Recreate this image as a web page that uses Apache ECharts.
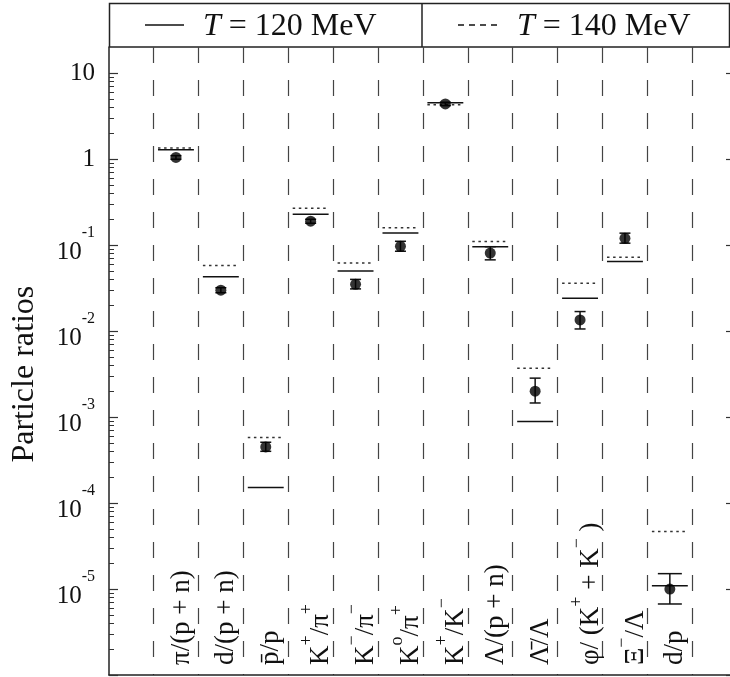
<!DOCTYPE html>
<html>
<head>
<meta charset="utf-8">
<script src="https://cdn.jsdelivr.net/npm/echarts@6/dist/echarts.min.js"></script>
<style>
html, body { margin: 0; padding: 0; background: #fff; }
#chart { width: 730px; height: 677px; }
</style>
</head>
<body>
<div id="chart"></div>
<script>
// ratio names (plain) and their typeset labels
var ratioNames = ['pi/(p+n)', 'd/(p+n)', 'pbar/p', 'K+/pi+', 'K-/pi-', 'K0/pi+',
                  'K+/K-', 'Lambda/(p+n)', 'Lambdabar/Lambda', 'phi/(K++K-)', 'Xi-/Lambda', 'd/p'];
var ratioLabels = [
    '{b|π/(p + n)}',
    '{b|d/(p + n)}',
    '{b|p\u0304/p}',
    '{b|K}{s|+}{b|/π}{s|+}',
    '{b|K}{s|\u2212}{b|/π}{s|\u2212}',
    '{b|K}{s|o}{b|/π}{s|+}',
    '{b|K}{s|+}{b|/K}{s|\u2212}',
    '{b|Λ/(p + n)}',
    '{b|Λ\u0304/Λ}',
    '{b|φ/ (K}{s|+}{b| + K}{s|\u2212}{b| )}',
    '{b|Ξ}{s|\u2212}{b|/Λ}',
    '{b|d/p}'
];

// measured ratios with error range
var measured = [1.05, 0.030, 4.5e-4, 0.19, 0.035, 0.097, 4.4, 0.081, 2.0e-3, 0.0135, 0.12, 1.0e-5];
var errLow   = [1.0, 0.028, 4.0e-4, 0.18, 0.031, 0.085, 4.2, 0.0675, 1.46e-3, 0.0106, 0.1055, 6.7e-6];
var errHigh  = [1.1, 0.032, 5.1e-4, 0.20, 0.040, 0.111, 4.6, 0.096, 2.84e-3, 0.0169, 0.138, 1.51e-5];

// thermal model, two temperatures
var model120 = [1.29, 0.043, 1.52e-4, 0.229, 0.050, 0.139, 4.55, 0.096, 8.9e-4, 0.0242, 0.0645, 1.09e-5];
var model140 = [1.35, 0.058, 5.8e-4, 0.269, 0.062, 0.160, 4.31, 0.110, 3.7e-3, 0.0361, 0.0725, 4.68e-5];

// y tick labels by decade exponent
var yTickLabels = {'-5': '{b|10}{s|-5}', '-4': '{b|10}{s|-4}', '-3': '{b|10}{s|-3}', '-2': '{b|10}{s|-2}',
                   '-1': '{b|10}{s|-1}', '0': '{n|1}', '1': '{n|10}'};

var serif = '"Liberation Serif", serif';
var ink = '#111';

var chart = echarts.init(document.getElementById('chart'));

function modelLine(dash) {
    return function (params, api) {
        var c = api.coord([api.value(0), api.value(1)]);
        var half = api.size([1, 0])[0] * 0.4;
        return {
            type: 'line',
            shape: { x1: c[0] - half, y1: c[1], x2: c[0] + half, y2: c[1] },
            style: { stroke: dash ? '#333' : '#111', lineWidth: 1.5, lineDash: dash ? [2.5, 3.6] : null }
        };
    };
}

var option = {
    animation: false,
    backgroundColor: '#fff',
    textStyle: { fontFamily: serif },
    grid: [
        { left: 109, right: 0, top: 47, bottom: 2 },      // frame
        { left: 109, right: 0, top: 73.3, bottom: 2 },    // ticks and labels (10^-6 .. 10)
        { left: 153.5, right: 37.7, top: 47, bottom: 2 }  // categories
    ],
    xAxis: [
        { gridIndex: 0, type: 'value', min: 0, max: 1,
          axisLine: { show: true, lineStyle: { color: '#222', width: 1.5 } },
          axisTick: { show: false }, axisLabel: { show: false }, splitLine: { show: false } },
        { gridIndex: 1, type: 'value', show: false, min: 0, max: 1 },
        { gridIndex: 2, type: 'category', data: ratioNames, boundaryGap: true,
          axisLine: { show: false }, axisTick: { show: false },
          splitLine: { show: true, interval: 0, lineStyle: { color: '#444', width: 1.2, type: [16, 17] } },
          axisLabel: {
              inside: true, rotate: 90, margin: 10, interval: 0, color: ink,
              padding: [12, 0, 0, 0],
              formatter: function (v, i) { return ratioLabels[i]; },
              rich: {
                  b: { fontFamily: serif, fontSize: 27, lineHeight: 26, verticalAlign: 'bottom', color: ink },
                  s: { fontFamily: serif, fontSize: 18, lineHeight: 36, verticalAlign: 'top', color: ink }
              }
          } }
    ],
    yAxis: [
        { gridIndex: 0, type: 'log', logBase: 10, min: 1e-6, max: 20.2,
          axisLine: { show: true, lineStyle: { color: '#222', width: 1.5 } },
          axisTick: { show: false }, axisLabel: { show: false }, splitLine: { show: false } },
        { gridIndex: 1, type: 'log', logBase: 10, min: 1e-6, max: 10,
          name: 'Particle ratios', nameLocation: 'middle', nameGap: 68, nameRotate: 90,
          nameTextStyle: { fontFamily: serif, fontSize: 32, color: ink },
          axisLine: { show: false },
          axisTick: { show: true, inside: true, length: 9, lineStyle: { color: '#333', width: 1.2 } },
          minorTick: { show: true, splitNumber: 9, length: 5, lineStyle: { color: '#333', width: 1 } },
          splitLine: { show: false },
          axisLabel: {
              margin: 14, showMinLabel: false, color: ink, fontFamily: serif, fontSize: 25,
              formatter: function (v) {
                  var e = Math.round(Math.log(v) / Math.LN10);
                  return yTickLabels[String(e)] || '';
              },
              rich: {
                  n: { fontFamily: serif, fontSize: 25, color: ink },
                  b: { fontFamily: serif, fontSize: 25, lineHeight: 22, verticalAlign: 'bottom', color: ink },
                  s: { fontFamily: serif, fontSize: 16, lineHeight: 40, verticalAlign: 'top', color: ink }
              }
          } },
        { gridIndex: 1, type: 'log', logBase: 10, min: 1e-6, max: 10, position: 'right',
          axisLine: { show: false },
          axisTick: { show: true, inside: true, length: 4, lineStyle: { color: '#333', width: 1.2 } },
          axisLabel: { show: false }, splitLine: { show: false } },
        { gridIndex: 2, type: 'log', logBase: 10, min: 1e-6, max: 20.2, show: false }
    ],
    graphic: [
        { type: 'rect', shape: { x: 109.5, y: 3.5, width: 620, height: 43.5 },
          style: { fill: null, stroke: '#222', lineWidth: 1.5 }, silent: true },
        { type: 'line', shape: { x1: 422, y1: 3.5, x2: 422, y2: 47 },
          style: { stroke: '#222', lineWidth: 1.5 }, silent: true },
        { type: 'line', shape: { x1: 145, y1: 25, x2: 184, y2: 25 },
          style: { stroke: '#111', lineWidth: 1.5 }, silent: true },
        { type: 'text', x: 203, y: 27,
          style: { text: '{i|T} = 120 MeV', fontFamily: serif, fontSize: 32, fill: ink,
                   verticalAlign: 'middle', align: 'left',
                   rich: { i: { fontFamily: serif, fontSize: 32, fontStyle: 'italic', fill: ink } } } },
        { type: 'line', shape: { x1: 458, y1: 25, x2: 497, y2: 25 },
          style: { stroke: '#111', lineWidth: 1.3, lineDash: [6, 5] }, silent: true },
        { type: 'text', x: 517, y: 27,
          style: { text: '{i|T} = 140 MeV', fontFamily: serif, fontSize: 32, fill: ink,
                   verticalAlign: 'middle', align: 'left',
                   rich: { i: { fontFamily: serif, fontSize: 32, fontStyle: 'italic', fill: ink } } } }
    ],
    series: [
        { name: 'T = 120 MeV', type: 'custom', xAxisIndex: 2, yAxisIndex: 3,
          renderItem: modelLine(false),
          data: model120.map(function (v, i) { return [i, v]; }) },
        { name: 'T = 140 MeV', type: 'custom', xAxisIndex: 2, yAxisIndex: 3,
          renderItem: modelLine(true),
          data: model140.map(function (v, i) { return [i, v]; }) },
        { name: 'error', type: 'custom', xAxisIndex: 2, yAxisIndex: 3,
          renderItem: function (params, api) {
              var i = api.value(0);
              var lo = api.coord([i, api.value(1)]);
              var hi = api.coord([i, api.value(2)]);
              var cap = params.dataIndex === 11 ? 12 : 5.5;
              var st = { stroke: '#111', lineWidth: 1.5 };
              return { type: 'group', children: [
                  { type: 'line', shape: { x1: lo[0], y1: lo[1], x2: hi[0], y2: hi[1] }, style: st },
                  { type: 'line', shape: { x1: lo[0] - cap, y1: lo[1], x2: lo[0] + cap, y2: lo[1] }, style: st },
                  { type: 'line', shape: { x1: hi[0] - cap, y1: hi[1], x2: hi[0] + cap, y2: hi[1] }, style: st }
              ] };
          },
          data: errLow.map(function (v, i) { return [i, v, errHigh[i]]; }) },
        { name: 'measured', type: 'scatter', xAxisIndex: 2, yAxisIndex: 3,
          symbol: 'circle', symbolSize: 11, itemStyle: { color: '#000' },
          data: measured }
    ]
};
chart.setOption(option);
</script>
</body>
</html>
